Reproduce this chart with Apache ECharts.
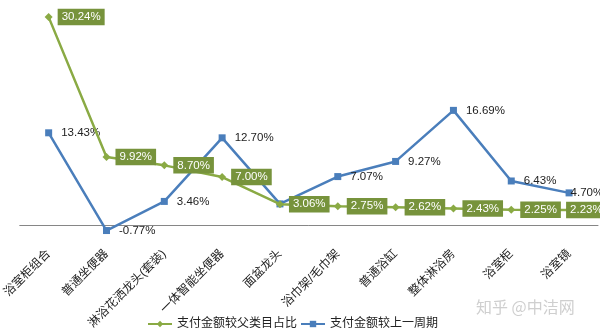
<!DOCTYPE html>
<html>
<head>
<meta charset="utf-8">
<script src="https://cdn.jsdelivr.net/npm/echarts@6/dist/echarts.min.js"></script>
<style>
  html, body { margin: 0; padding: 0; background: #fff; }
  #chart { width: 600px; height: 336px; }
</style>
</head>
<body>
<div id="chart"></div>
<script>
// Product categories along the x axis
const categories = ['浴室柜组合', '普通坐便器', '淋浴花洒龙头(套装)', '一体智能坐便器', '面盆龙头',
  '浴巾架/毛巾架', '普通浴缸', '整体淋浴房', '浴室柜', '浴室镜'];

// Share of payment amount within the parent category (%)
const shareOfParent = [30.24, 9.92, 8.70, 7.00, 3.06, 2.75, 2.62, 2.43, 2.25, 2.23];

// Payment amount change versus the previous period (%)
const changeVsPrev = [13.43, -0.77, 3.46, 12.70, 3.1, 7.07, 9.27, 16.69, 6.43, 4.70];

const seriesNames = ['支付金额较父类目占比', '支付金额较上一周期'];

const GREEN = '#8AAA44';
const GREEN_BOX = '#77933C';
const BLUE = '#4A7EBB';
const FONT = '"Liberation Sans", "Noto Sans CJK SC", sans-serif';

const chart = echarts.init(document.getElementById('chart'), null, { renderer: 'canvas' });

const fmt = v => v.toFixed(2) + '%';

// green series points: boxed labels; the last one is nudged left to stay inside
const greenData = shareOfParent.map((v, i) => {
  const d = { value: v };
  if (i === shareOfParent.length - 1) d.label = { offset: [-12, 0] };
  return d;
});

// blue series points: plain labels; hidden where it sits under the green label
const blueData = changeVsPrev.map((v, i) => {
  const d = { value: v };
  if (i === 4) d.label = { show: false };
  if (i === changeVsPrev.length - 1) d.label = { offset: [-11, 0] };
  return d;
});

chart.setOption({
  animation: false,
  backgroundColor: '#fff',
  textStyle: { fontFamily: FONT },
  grid: { left: 17, right: 2, top: 5, bottom: 97, containLabel: false },
  xAxis: {
    type: 'category',
    data: categories,
    boundaryGap: true,
    axisLine: { onZero: true, lineStyle: { color: '#868686', width: 1 } },
    axisTick: { show: false },
    axisLabel: {
      interval: 0,
      rotate: 45,
      margin: 13,
      fontSize: 12,
      color: '#222',
      fontFamily: FONT
    }
  },
  yAxis: {
    type: 'value',
    min: -2,
    max: 32,
    show: false,
    splitLine: { show: false }
  },
  legend: {
    left: 142,
    top: 313,
    itemWidth: 24,
    itemHeight: 8,
    itemGap: 3,
    textStyle: { fontSize: 12, color: '#222', fontFamily: FONT },
    data: seriesNames
  },
  series: [
    {
      name: seriesNames[1],
      type: 'line',
      data: blueData,
      symbol: 'rect',
      symbolSize: 7,
      z: 2,
      lineStyle: { color: BLUE, width: 2.5 },
      itemStyle: { color: BLUE },
      label: {
        show: true,
        position: 'right',
        distance: 9,
        formatter: p => fmt(p.value),
        fontSize: 11.5,
        color: '#222',
        fontFamily: FONT
      }
    },
    {
      name: seriesNames[0],
      type: 'line',
      data: greenData,
      symbol: 'diamond',
      symbolSize: 8,
      z: 3,
      lineStyle: { color: GREEN, width: 2.5 },
      itemStyle: { color: GREEN },
      label: {
        show: true,
        position: 'right',
        distance: 5,
        formatter: p => fmt(p.value),
        fontSize: 11.5,
        color: '#fff',
        backgroundColor: GREEN_BOX,
        padding: [3, 4, 2, 4],
        fontFamily: FONT
      }
    }
  ],
  graphic: [
    {
      type: 'text',
      left: 476,
      top: 299,
      style: {
        text: '知乎 @中洁网',
        fontSize: 16,
        fill: '#cfcfcf',
        fontFamily: '"Noto Sans CJK SC", sans-serif'
      }
    }
  ]
});
</script>
</body>
</html>
